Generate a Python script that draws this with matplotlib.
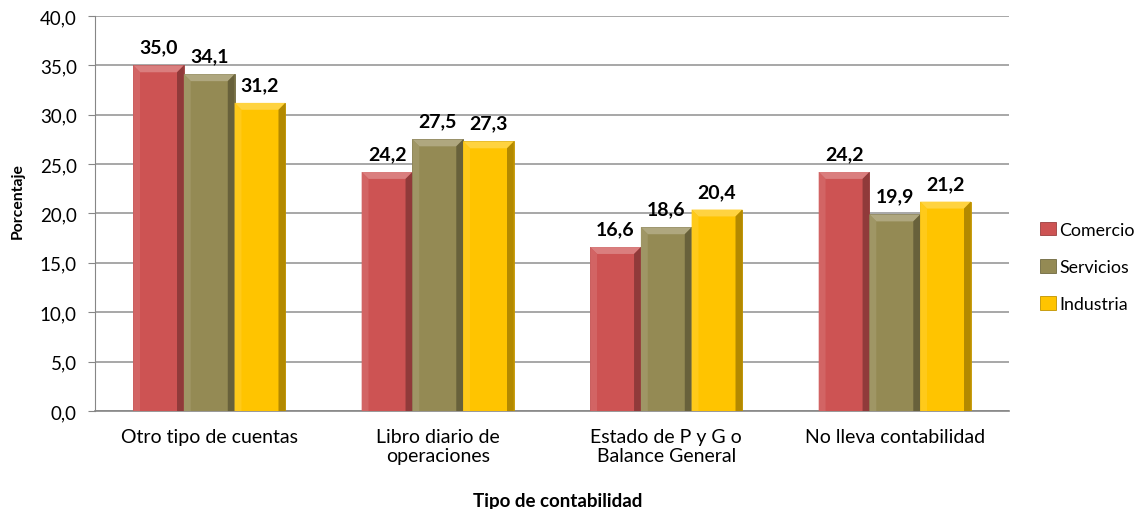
import matplotlib
matplotlib.use('Agg')
import matplotlib.pyplot as plt
from matplotlib.patches import Polygon
from matplotlib.colors import to_rgb
import numpy as np

# Data
categories = ['Otro tipo de cuentas', 'Libro diario de\noperaciones',
              'Estado de P y G o\nBalance General', 'No lleva contabilidad']
series = ['Comercio', 'Servicios', 'Industria']
comercio = [35.0, 24.2, 16.6, 24.2]
servicios = [34.1, 27.5, 18.6, 19.9]
industria = [31.2, 27.3, 20.4, 21.2]
values = [comercio, servicios, industria]
colors = ['#CD5353', '#948A54', '#FFC400']

plt.rcParams['font.family'] = ['Lato', 'DejaVu Sans']

fig = plt.figure(figsize=(11.39, 5.10), dpi=100)
ax = fig.add_axes([0.0834, 0.1922, 0.8025, 0.7745])

x = np.arange(len(categories))
width = 0.222


def shade(c, f):
    r, g, b = to_rgb(c)
    if f > 1:
        return (r + (1 - r) * (f - 1), g + (1 - g) * (f - 1), b + (1 - b) * (f - 1))
    return (r * f, g * f, b * f)


dx = 0.03
dy = 0.7
for i, (vals, col, name) in enumerate(zip(values, colors, series)):
    pos = x + (i - 1) * width
    bars = ax.bar(pos, vals, width, color=col, label=name, zorder=3,
                  edgecolor=shade(col, 0.75), linewidth=0.6)
    for b, v in zip(bars, vals):
        x0 = b.get_x()
        x1 = x0 + b.get_width()
        # bevel: top lighter, left lighter, right darker
        ax.add_patch(Polygon([(x0, v), (x1, v), (x1 - dx, v - dy), (x0 + dx, v - dy)],
                             closed=True, color=shade(col, 1.25), zorder=4, lw=0))
        ax.add_patch(Polygon([(x0, v), (x0 + dx, v - dy), (x0 + dx, 0), (x0, 0)],
                             closed=True, color=shade(col, 1.1), zorder=4, lw=0))
        ax.add_patch(Polygon([(x1, v), (x1 - dx, v - dy), (x1 - dx, 0), (x1, 0)],
                             closed=True, color=shade(col, 0.7), zorder=4, lw=0))
        ax.annotate(f'{v:.1f}'.replace('.', ','), (b.get_x() + b.get_width() / 2, v),
                    xytext=(0, 7), textcoords='offset points', ha='center', va='bottom',
                    fontsize=14, fontweight='bold', zorder=5)

ax.set_xlim(-0.5, len(categories) - 0.5)
ax.set_ylim(0, 40)
ax.set_yticks(np.arange(0, 41, 5))
ax.set_yticklabels([f'{t:.1f}'.replace('.', ',') for t in np.arange(0, 41, 5)], fontsize=13.5)
ax.set_xticks(x)
ax.set_xticklabels(categories, fontsize=14, linespacing=1.15)
ax.tick_params(axis='x', length=0, pad=12)
ax.tick_params(axis='y', length=5, color='#868686', pad=8)

ax.grid(axis='y', color='#A0A0A0', linewidth=1.3, zorder=0)
ax.set_axisbelow(True)
for s in ['top', 'right']:
    ax.spines[s].set_visible(False)
ax.spines['left'].set_color('#868686')
ax.spines['bottom'].set_color('#868686')
ax.spines['bottom'].set_linewidth(1.2)

fig.text(0.016, 0.606, 'Porcentaje', rotation=90, ha='center', va='center',
         fontsize=11.3, fontweight='bold')
fig.text(0.49, 0.016, 'Tipo de contabilidad', ha='center', va='center',
         fontsize=13.5, fontweight='bold')

fig.legend(loc='center left', bbox_to_anchor=(0.899, 0.4745), frameon=False,
           fontsize=12.8, handlelength=0.9, handleheight=0.8, handletextpad=0.2,
           labelspacing=1.2)

fig.savefig('out.png', dpi=100)
